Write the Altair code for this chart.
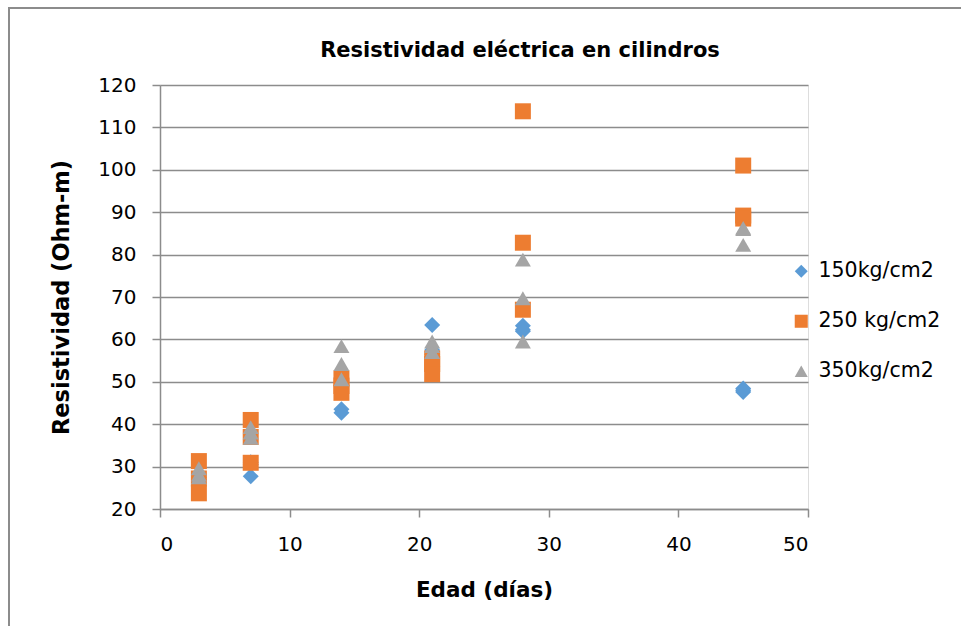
import altair as alt
import pandas as pd

ages = [3, 7, 14, 21, 28, 45]
series_names = ["150kg/cm2", "250 kg/cm2", "350kg/cm2"]
title_text = ["Resistividad eléctrica en cilindros"]

r150 = [
    [27.5, 28.0, 27.0],
    [31.0, 30.5, 27.7],
    [51.0, 43.5, 42.7],
    [63.4, 57.5, 56.5],
    [63.2, 62.3, 61.9],
    [48.4, 47.6, 48.0],
]
r250 = [
    [31.3, 27.2, 23.7],
    [41.0, 37.0, 30.9],
    [50.8, 49.0, 47.4],
    [55.5, 54.2, 51.8],
    [113.8, 82.8, 67.0],
    [101.0, 89.2, 88.5],
]
r350 = [
    [29.6, 28.1, 27.5],
    [39.3, 36.8, 38.0],
    [58.4, 54.2, 50.6],
    [59.5, 58.4, 57.0],
    [78.8, 69.7, 59.5],
    [86.3, 82.3, 86.0],
]

colors = ["#5B9BD5", "#ED7D31", "#A5A5A5"]
shapes = ["diamond", "square", "triangle-up"]

rows = []
for name, vals in zip(series_names, [r150, r250, r350]):
    for age, group in zip(ages, vals):
        for v in group:
            rows.append({"Edad": age, "Resistividad": v, "Serie": name})
df = pd.DataFrame(rows)
title_df = pd.DataFrame({"t": title_text})

FONT = "DejaVu Sans"
GRAY = "#8c8c8c"

points = alt.Chart(df).mark_point(filled=True, opacity=1, size=256).encode(
    x=alt.X("Edad:Q",
            scale=alt.Scale(domain=[0, 50], nice=False, zero=False),
            axis=alt.Axis(values=[0, 10, 20, 30, 40, 50], grid=False,
                          title="Edad (días)", titleFontSize=21.5, titleFont=FONT,
                          titleFontWeight="bold", titleColor="black",
                          titlePadding=25,
                          labelFontSize=20, labelFont=FONT, labelColor="black",
                          labelPadding=17, tickSize=8, tickColor=GRAY,
                          domainColor=GRAY, tickWidth=1.5, domainWidth=1.5)),
    y=alt.Y("Resistividad:Q",
            scale=alt.Scale(domain=[20, 120], nice=False, zero=False),
            axis=alt.Axis(values=list(range(20, 121, 10)), grid=True,
                          gridColor=GRAY, gridWidth=1.5,
                          title="Resistividad (Ohm-m)", titleFontSize=22.5,
                          titleFont=FONT, titleFontWeight="bold", titleColor="black",
                          titlePadding=24,
                          labelFontSize=20, labelFont=FONT, labelColor="black",
                          labelPadding=16, tickSize=8, tickColor=GRAY,
                          domainColor=GRAY, tickWidth=1.5, domainWidth=1.5)),
    color=alt.Color("Serie:N",
                    scale=alt.Scale(domain=series_names, range=colors),
                    legend=alt.Legend(title=None, orient="none", legendX=631,
                                      legendY=176, labelFontSize=20.5,
                                      labelFont=FONT, labelColor="black",
                                      symbolSize=170, rowPadding=29,
                                      labelOffset=7, symbolStrokeWidth=0)),
    shape=alt.Shape("Serie:N",
                    scale=alt.Scale(domain=series_names, range=shapes)),
)

title = alt.Chart(title_df).mark_text(
    font=FONT, fontSize=21, fontWeight="bold", color="black",
    align="center", baseline="middle").encode(
    text="t:N", x=alt.value(360), y=alt.value(-34))

frame_left = alt.Chart(title_df).mark_rule(color=GRAY, strokeWidth=2).encode(
    x=alt.value(-151), y=alt.value(-77), y2=alt.value(560))
frame_top = alt.Chart(title_df).mark_rule(color=GRAY, strokeWidth=2).encode(
    x=alt.value(-152), x2=alt.value(820), y=alt.value(-77))

chart = alt.layer(frame_left, frame_top, title, points).properties(
    width=648, height=424,
    autosize=alt.AutoSizeParams(type="none"),
    padding={"left": 160, "top": 85, "right": 153, "bottom": 117},
).configure_view(stroke=None).configure(background="white")

chart.save("out.html", embed_options={"renderer": "svg", "actions": False})
